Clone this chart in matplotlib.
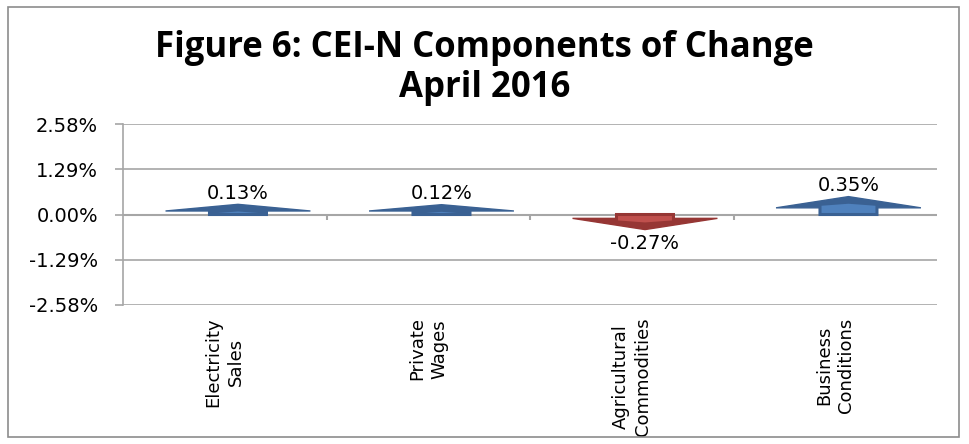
import matplotlib
matplotlib.use("Agg")
import matplotlib.pyplot as plt
from matplotlib.patches import Polygon, Rectangle

# CEI-N components of change, April 2016 (percent)
categories = ["Electricity\nSales", "Private\nWages", "Agricultural\nCommodities", "Business\nConditions"]
values = [0.13, 0.12, -0.27, 0.35]
yticks = [-2.58, -1.29, 0.00, 1.29, 2.58]

blue_dark, blue_fill = "#3A6193", "#4F81BD"
red_dark, red_fill = "#963634", "#C0504D"
grid_col = "#A6A6A6"

fig = plt.figure(figsize=(9.69, 4.44), dpi=100)
ax = fig.add_axes([123/969, 1 - 305/444, (937 - 123)/969, (305 - 124)/444])

# outer chart border
fig.patches.append(Rectangle((8/969, 7/444), 951/969, 430/444, transform=fig.transFigure,
                             fill=False, edgecolor="#8C8C8C", linewidth=1.2))

fig.text(0.5, 1 - 48/444, "Figure 6: CEI-N Components of Change", ha="center", va="center",
         fontsize=25, fontweight="bold", family="Open Sans")
fig.text(0.5, 1 - 88/444, "April 2016", ha="center", va="center",
         fontsize=25, fontweight="bold", family="Open Sans")

ax.set_xlim(-0.5, 3.5)
ax.set_ylim(yticks[0], yticks[-1])

off = 0.065      # arrows sit a bit right of the category centre
shaft_w = 0.14
head_w = 0.356
head_h = 0.16

for i, v in enumerate(values):
    x = i + off
    s = 1 if v >= 0 else -1
    dark, fill = (blue_dark, blue_fill) if v >= 0 else (red_dark, red_fill)
    base = v - s * head_h
    if s * base < 0.1:
        base = s * 0.1
    apex = v + s * head_h
    ax.add_patch(Polygon([(x - head_w, base), (x, apex), (x + head_w, base)],
                         closed=True, facecolor=dark, edgecolor=dark, lw=1, zorder=3))
    shoulder = v - s * 0.06
    ax.add_patch(Polygon([(x - shaft_w, 0), (x + shaft_w, 0), (x + shaft_w, shoulder),
                          (x, v), (x - shaft_w, shoulder)],
                         closed=True, facecolor=fill, edgecolor=dark, lw=2.2, zorder=4))
    if s > 0:
        ax.annotate("%.2f%%" % v, (x, apex), xytext=(0, 1), textcoords="offset points",
                    ha="center", va="bottom", fontsize=14)
    else:
        ax.annotate("%.2f%%" % v, (x, apex), xytext=(0, -3), textcoords="offset points",
                    ha="center", va="top", fontsize=14)

# category axis crosses at zero, with tick marks between categories
ax.axhline(0, color=grid_col, lw=1.5, zorder=2)
ax.vlines([0.5, 1.5, 2.5], -0.17, 0, color=grid_col, lw=1.5, zorder=2)

ax.set_yticks(yticks)
ax.set_yticklabels(["%.2f%%" % t for t in yticks], fontsize=14)
ax.set_xticks(range(len(categories)))
ax.set_xticklabels(categories, rotation=90, fontsize=13, multialignment="center",
                   linespacing=1.3)
ax.tick_params(axis="x", length=0, pad=9)
ax.tick_params(axis="y", length=6, color=grid_col, width=1.2, pad=12)
ax.yaxis.grid(True, color=grid_col, lw=1.2)
ax.set_axisbelow(True)
for side in ["top", "right", "bottom"]:
    ax.spines[side].set_visible(False)
ax.spines["left"].set_color(grid_col)
ax.spines["left"].set_linewidth(1.2)

fig.savefig("out.png", dpi=100)
